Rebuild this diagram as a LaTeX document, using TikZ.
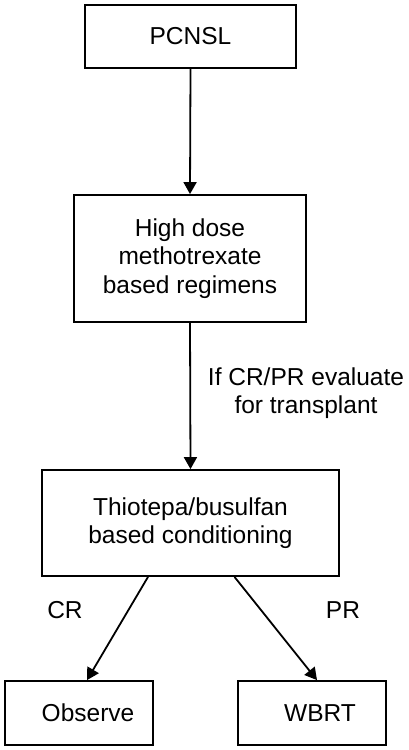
\documentclass[tikz,border=0pt]{standalone}
\usepackage{fontspec}
\setmainfont{Liberation Sans}
\usetikzlibrary{arrows.meta,calc}
\begin{document}
\begin{tikzpicture}[x=1pt,y=-1pt,
  box/.style={draw,line width=1.8pt,inner sep=0pt,align=center,font=\fontsize{24.5}{28.5}\selectfont},
  lbl/.style={inner sep=0pt,align=center,font=\fontsize{24.5}{28.5}\selectfont},
  conn/.style={line width=1.8pt,-{Triangle[length=12pt,width=13pt]}}]
\useasboundingbox (0,0) rectangle (408,750);
\node[box,minimum width=211pt,minimum height=63pt] (pc) at (190.5,36.5) {PCNSL};
\node[box,minimum width=232pt,minimum height=127pt] (hd) at (190,258.5) {High dose\\methotrexate\\based regimens};
\node[box,minimum width=297pt,minimum height=106pt] (tb) at (190.5,523) {Thiotepa/busulfan\\based conditioning};
\node[box,minimum width=148pt,minimum height=64pt] (ob) at (79,713) {\hspace*{18pt}Observe};
\node[box,minimum width=148pt,minimum height=64pt] (wb) at (312,713) {\hspace*{16pt}WBRT};
\node[lbl] (ev) at (306,393) {If CR/PR evaluate\\for transplant};
\node[lbl] (cr) at (65,610) {CR};
\node[lbl] (pr) at (343,610) {PR};
\draw[conn] (pc.south) -- (hd.north);
\draw[conn] (hd.south) -- (tb.north);
\draw[conn] ($(tb.south)+(-42.5,0)$) -- ($(ob.north)+(8,0)$);
\draw[conn] ($(tb.south)+(44,0)$) -- ($(wb.north)+(5,0)$);
\end{tikzpicture}
\end{document}
